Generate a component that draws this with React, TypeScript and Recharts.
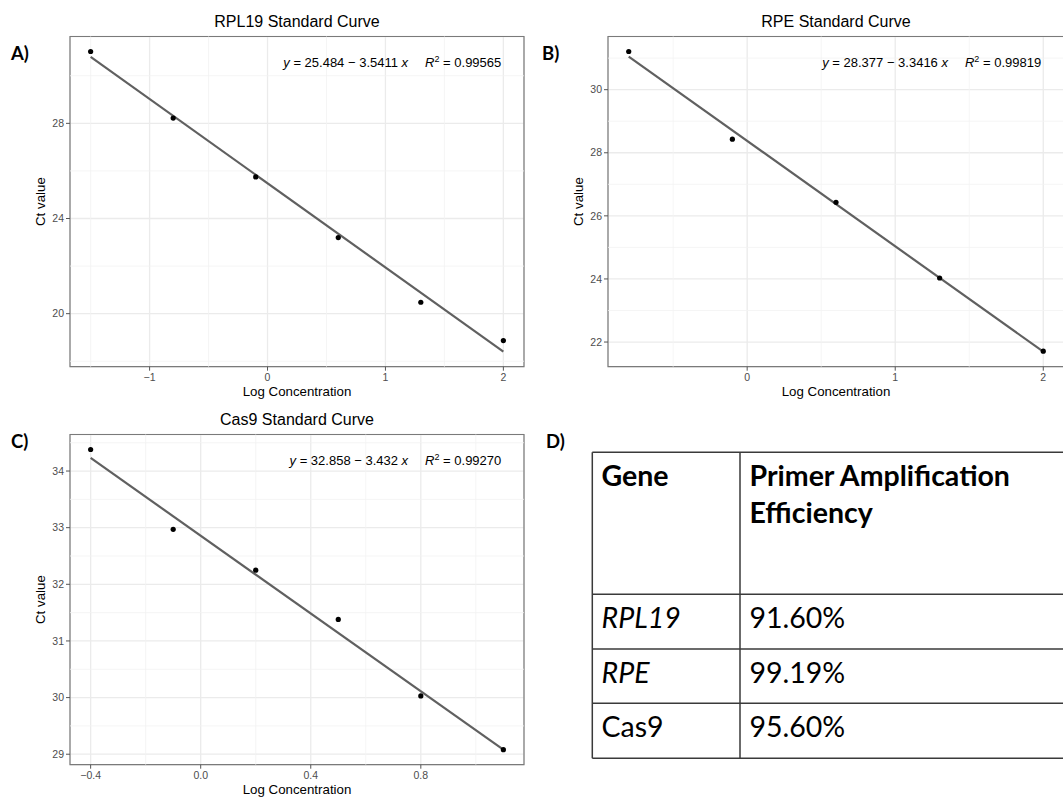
import React from 'react';
import {
  ScatterChart,
  Scatter,
  XAxis,
  YAxis,
  CartesianGrid,
  ReferenceLine,
  ReferenceArea,
} from 'recharts';

// ---------- DATA ----------
// RPL19
const rpl19LogConc = [-1.5, -0.8, -0.1, 0.6, 1.3, 2.0];
const rpl19Ct = [31.02, 28.22, 25.75, 23.2, 20.48, 18.87];
const rpl19Fit = [25.484, 3.5411]; // intercept, (negative) slope
const rpl19R2 = '0.99565';
const rpl19XTicks = [-1, 0, 1, 2];
const rpl19YTicks = [20, 24, 28];
const rpl19XMinor = [-1.5, -0.5, 0.5, 1.5];
const rpl19YMinor = [18, 22, 26, 30];

// RPE
const rpeLogConc = [-0.8, -0.1, 0.6, 1.3, 2.0];
const rpeCt = [31.21, 28.43, 26.43, 24.03, 21.71];
const rpeFit = [28.377, 3.3416];
const rpeR2 = '0.99819';
const rpeXTicks = [0, 1, 2];
const rpeYTicks = [22, 24, 26, 28, 30];
const rpeXMinor = [-0.5, 0.5, 1.5];
const rpeYMinor = [21, 23, 25, 27, 29, 31];

// Cas9
const cas9LogConc = [-0.4, -0.1, 0.2, 0.5, 0.8, 1.1];
const cas9Ct = [34.38, 32.97, 32.25, 31.38, 30.03, 29.08];
const cas9Fit = [32.858, 3.432];
const cas9R2 = '0.99270';
const cas9XTicks = [-0.4, 0, 0.4, 0.8];
const cas9YTicks = [29, 30, 31, 32, 33, 34];
const cas9XMinor = [-0.2, 0.2, 0.6, 1.0];
const cas9YMinor = [29.5, 30.5, 31.5, 32.5, 33.5, 34.5];

// Table
const tableGenes = ['RPL19', 'RPE', 'Cas9'];
const tableGeneItalic = [true, true, false];
const tableEfficiency = ['91.60%', '99.19%', '95.60%'];
const tableHeaderGene = 'Gene';
const tableHeaderEff = ['Primer Amplification', 'Efficiency'];

// ---------- STYLE ----------
const SANS = '"Liberation Sans", Arial, Helvetica, sans-serif';
const CAL = 'Lato, "Open Sans", sans-serif';
const TICK_STYLE = { fontSize: 10.5, fill: '#4D4D4D', fontFamily: SANS };

const minus = (s: string) => s.replace('-', '\u2212');

function expand(lo: number, hi: number): [number, number] {
  const r = hi - lo;
  return [lo - r * 0.05, hi + r * 0.05];
}

type PanelProps = {
  left: number;
  top: number;
  width: number;
  xs: number[];
  ys: number[];
  fit: number[];
  xTicks: number[];
  yTicks: number[];
  xMinor: number[];
  yMinor: number[];
  xFmt: (v: number) => string;
  yFmt: (v: number) => string;
};

const CHART_H = 400;
const MARGIN = { top: 36.5, right: 16, left: 0, bottom: 0 };
const Y_AXIS_W = 50;
const X_AXIS_H = 33.3;

function Panel(p: PanelProps) {
  const data = p.xs.map((x, i) => ({ x, y: p.ys[i] }));
  const x0 = Math.min(...p.xs);
  const x1 = Math.max(...p.xs);
  const f0 = p.fit[0] - p.fit[1] * x0;
  const f1 = p.fit[0] - p.fit[1] * x1;
  const xDom = expand(x0, x1);
  const yDom = expand(Math.min(...p.ys, f0, f1), Math.max(...p.ys, f0, f1));
  return (
    <div style={{ position: 'absolute', left: p.left, top: p.top }}>
      <ScatterChart width={p.width} height={CHART_H} margin={MARGIN}>
        <CartesianGrid stroke="#EBEBEB" strokeWidth={1.3} />
        {p.xMinor.map((v) => (
          <ReferenceLine key={'vx' + v} x={v} stroke="#F2F2F2" strokeWidth={0.8} />
        ))}
        {p.yMinor.map((v) => (
          <ReferenceLine key={'vy' + v} y={v} stroke="#F2F2F2" strokeWidth={0.8} />
        ))}
        <XAxis
          type="number"
          dataKey="x"
          domain={xDom}
          ticks={p.xTicks}
          interval={0}
          allowDataOverflow
          axisLine={false}
          tickLine={{ stroke: '#555', strokeWidth: 1 }}
          tickSize={4}
          tickMargin={3}
          tick={TICK_STYLE}
          tickFormatter={p.xFmt}
          height={X_AXIS_H}
        />
        <YAxis
          type="number"
          dataKey="y"
          domain={yDom}
          ticks={p.yTicks}
          interval={0}
          allowDataOverflow
          axisLine={false}
          tickLine={{ stroke: '#555', strokeWidth: 1 }}
          tickSize={4}
          tickMargin={2}
          tick={TICK_STYLE}
          tickFormatter={p.yFmt}
          width={Y_AXIS_W}
        />
        <ReferenceArea
          x1={xDom[0]}
          x2={xDom[1]}
          y1={yDom[0]}
          y2={yDom[1]}
          fill="none"
          fillOpacity={0}
          stroke="#7A7A7A"
          strokeWidth={1.2}
          ifOverflow="visible"
        />
        <Scatter
          data={data}
          isAnimationActive={false}
          shape={(s: any) => <circle cx={s.cx} cy={s.cy} r={2.6} fill="#000" />}
        />
        <ReferenceLine
          segment={[
            { x: x0, y: f0 },
            { x: x1, y: f1 },
          ]}
          stroke="#606060"
          strokeWidth={2.2}
          ifOverflow="visible"
        />
      </ScatterChart>
    </div>
  );
}

function Equation({ x, y, fit, r2 }: { x: number; y: number; fit: number[]; r2: string }) {
  return (
    <text x={x} y={y} textAnchor="end" fontFamily={SANS} fontSize={13} fill="#000" style={{ whiteSpace: 'pre' }}>
      <tspan fontStyle="italic">y</tspan>
      <tspan>{' = ' + fit[0] + ' \u2212 ' + fit[1] + ' '}</tspan>
      <tspan fontStyle="italic">x</tspan>
      <tspan dx={17} fontStyle="italic">R</tspan>
      <tspan dy={-5.5} fontSize={9}>2</tspan>
      <tspan dy={5.5}>{' = ' + r2}</tspan>
    </text>
  );
}

const fmtInt = (v: number) => minus(String(v));
const fmtOne = (v: number) => minus(v.toFixed(1));

// Layout
const A = { left: 20, top: 0, width: 520 };
const B = { left: 558, top: 0, width: 522 };
const C = { left: 20, top: 398, width: 520 };
const plotL = (pp: { left: number }) => pp.left + Y_AXIS_W;
const plotR = (pp: { left: number; width: number }) => pp.left + pp.width - MARGIN.right;
const plotT = (pp: { top: number }) => pp.top + MARGIN.top;
const plotB = (pp: { top: number }) => pp.top + CHART_H - X_AXIS_H;

function Titles() {
  const panels = [
    { pp: A, title: 'RPL19 Standard Curve', fit: rpl19Fit, r2: rpl19R2 },
    { pp: B, title: 'RPE Standard Curve', fit: rpeFit, r2: rpeR2 },
    { pp: C, title: 'Cas9 Standard Curve', fit: cas9Fit, r2: cas9R2 },
  ];
  return (
    <>
      {panels.map(({ pp, title, fit, r2 }) => {
        const cx = (plotL(pp) + plotR(pp)) / 2;
        const cy = (plotT(pp) + plotB(pp)) / 2;
        const eqRight = plotL(pp) + 0.95 * (plotR(pp) - plotL(pp));
        return (
          <g key={title}>
            <text x={cx} y={plotT(pp) - 9.5} textAnchor="middle" fontFamily={SANS} fontSize={16} fill="#000">
              {title}
            </text>
            <text x={cx} y={plotB(pp) + 29} textAnchor="middle" fontFamily={SANS} fontSize={13.3} fill="#000">
              Log Concentration
            </text>
            <text
              x={plotL(pp) - 25}
              y={cy}
              textAnchor="middle"
              fontFamily={SANS}
              fontSize={13.3}
              fill="#000"
              transform={`rotate(-90 ${plotL(pp) - 25} ${cy})`}
            >
              Ct value
            </text>
            <Equation x={eqRight} y={plotT(pp) + 30.5} fit={fit} r2={r2} />
          </g>
        );
      })}
    </>
  );
}

function PanelLabels() {
  const labels = [
    { t: 'A)', x: 11, y: 60 },
    { t: 'B)', x: 542, y: 59.5 },
    { t: 'C)', x: 11, y: 447.5 },
    { t: 'D)', x: 546, y: 447.5 },
  ];
  return (
    <>
      {labels.map((l) => (
        <text key={l.t} x={l.x} y={l.y} fontFamily={CAL} fontWeight={700} fontSize={18.5} fill="#000">
          {l.t}
        </text>
      ))}
    </>
  );
}

function Table() {
  const left = 592.3;
  const right = 1070;
  const top = 452.3;
  const headBottom = 594.3;
  const rowLines = [649, 703.3, 758.3];
  const divider = 740;
  const col1 = 601.5;
  const col2 = 749.5;
  const stroke = '#3A3A3A';
  const sw = 1.5;
  const rowBase = [628.3, 683.3, 737.3];
  const fs = 28.5;
  return (
    <g>
      <line x1={left} x2={right} y1={top} y2={top} stroke={stroke} strokeWidth={sw} />
      <line x1={left} x2={right} y1={headBottom} y2={headBottom} stroke={stroke} strokeWidth={sw} />
      {rowLines.map((y) => (
        <line key={y} x1={left} x2={right} y1={y} y2={y} stroke={stroke} strokeWidth={sw} />
      ))}
      <line x1={left} x2={left} y1={top} y2={rowLines[2]} stroke={stroke} strokeWidth={sw} />
      <line x1={divider} x2={divider} y1={top} y2={rowLines[2]} stroke={stroke} strokeWidth={sw} />
      <text x={col1} y={486} fontFamily={CAL} fontWeight={700} fontSize={fs} fill="#000">
        {tableHeaderGene}
      </text>
      {tableHeaderEff.map((t, i) => (
        <text key={t} x={col2} y={486 + i * 37} fontFamily={CAL} fontWeight={700} fontSize={fs} fill="#000">
          {t}
        </text>
      ))}
      {tableGenes.map((g, i) => (
        <g key={g}>
          <text
            x={col1}
            y={rowBase[i]}
            fontFamily={CAL}
            fontStyle={tableGeneItalic[i] ? 'italic' : 'normal'}
            fontSize={fs}
            fill="#000"
          >
            {g}
          </text>
          <text x={col2} y={rowBase[i]} fontFamily={CAL} fontSize={fs} fill="#000">
            {tableEfficiency[i]}
          </text>
        </g>
      ))}
    </g>
  );
}

export default function App() {
  return (
    <div
      style={{
        position: 'absolute',
        left: 0,
        top: 0,
        width: 1063,
        height: 799,
        overflow: 'hidden',
        background: '#fff',
      }}
    >
      <Panel {...A} xs={rpl19LogConc} ys={rpl19Ct} fit={rpl19Fit} xTicks={rpl19XTicks} yTicks={rpl19YTicks} xMinor={rpl19XMinor} yMinor={rpl19YMinor} xFmt={fmtInt} yFmt={fmtInt} />
      <Panel {...B} xs={rpeLogConc} ys={rpeCt} fit={rpeFit} xTicks={rpeXTicks} yTicks={rpeYTicks} xMinor={rpeXMinor} yMinor={rpeYMinor} xFmt={fmtInt} yFmt={fmtInt} />
      <Panel {...C} xs={cas9LogConc} ys={cas9Ct} fit={cas9Fit} xTicks={cas9XTicks} yTicks={cas9YTicks} xMinor={cas9XMinor} yMinor={cas9YMinor} xFmt={fmtOne} yFmt={fmtInt} />
      <svg
        width={1063}
        height={799}
        style={{ position: 'absolute', left: 0, top: 0, pointerEvents: 'none' }}
      >
        <Titles />
        <PanelLabels />
        <Table />
      </svg>
    </div>
  );
}
